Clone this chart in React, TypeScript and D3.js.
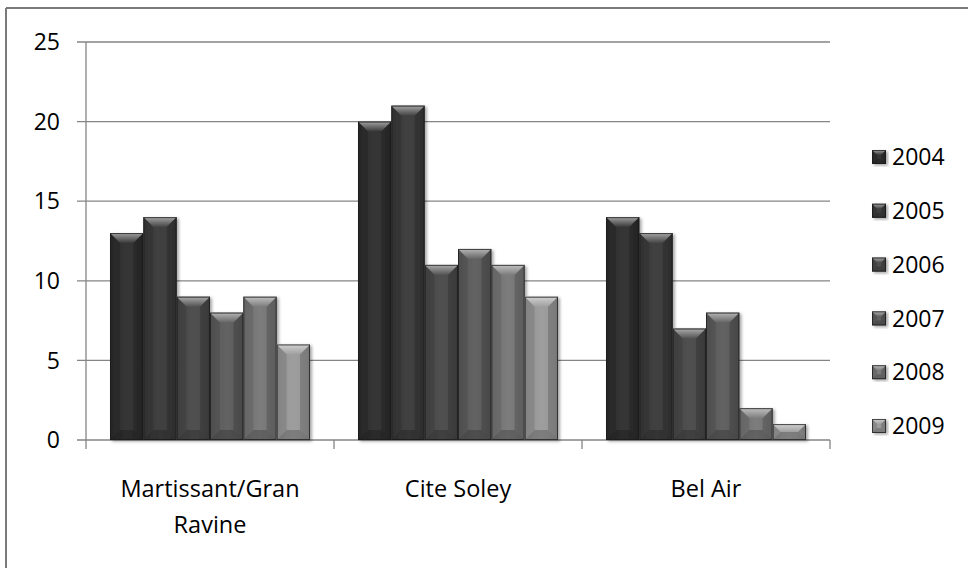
import React from "react";
import * as d3 from "d3";

// Chart data
const categories = ["Martissant/Gran Ravine", "Cite Soley", "Bel Air"];
const categoryLines = [["Martissant/Gran", "Ravine"], ["Cite Soley"], ["Bel Air"]];
const years = ["2004", "2005", "2006", "2007", "2008", "2009"];
const values2004 = [13, 20, 14];
const values2005 = [14, 21, 13];
const values2006 = [9, 11, 7];
const values2007 = [8, 12, 8];
const values2008 = [9, 11, 2];
const values2009 = [6, 9, 1];
const seriesValues = [values2004, values2005, values2006, values2007, values2008, values2009];
const yTicks = [0, 5, 10, 15, 20, 25];
const seriesColors = ["#2d2d2d", "#393939", "#494949", "#5c5c5c", "#767676", "#9a9a9a"];

const W = 968;
const H = 568;
const FONT = "'Open Sans', 'Noto Sans', sans-serif";

const x0 = d3.scaleBand<string>().domain(categories).range([86, 830]).paddingInner(0).paddingOuter(0);
const x1 = d3.scaleBand<string>().domain(years).range([0, x0.bandwidth()]).paddingInner(0).paddingOuter(0.72);
const y = d3.scaleLinear().domain([0, 25]).range([440, 42]);

function BevelRect({ x, y: top, w, h, color, depth, id }: { x: number; y: number; w: number; h: number; color: string; depth: number; id: string }) {
  const d = Math.min(depth, h / 2, w / 2);
  const pts = (arr: number[][]) => arr.map((p) => p.join(",")).join(" ");
  const b = top + h;
  const topPoly = pts([[x, top], [x + w, top], [x + w - d, top + d], [x + d, top + d]]);
  return (
    <g>
      <rect x={x} y={top} width={w} height={h} fill={color} />
      <rect x={x} y={top} width={w} height={h} fill={`url(#body-${id})`} />
      <polygon points={topPoly} fill={color} />
      <polygon points={topPoly} fill="url(#topBevel)" />
      <polygon points={pts([[x, top], [x + d, top + d], [x + d, b - d], [x, b]])} fill="#000" fillOpacity={0.1} />
      <polygon points={pts([[x + w, top], [x + w - d, top + d], [x + w - d, b - d], [x + w, b]])} fill="#000" fillOpacity={0.16} />
      <polygon points={pts([[x, b], [x + d, b - d], [x + w - d, b - d], [x + w, b]])} fill="#000" fillOpacity={0.2} />
      <rect x={x + 0.5} y={top + 0.5} width={w - 1} height={h - 1} fill="none" stroke="#1a1a1a" strokeOpacity={0.75} strokeWidth={1} />
    </g>
  );
}

export default function App() {
  const gridColor = "#858585";
  return (
    <svg width={W} height={H} style={{ position: "absolute", left: 0, top: 0, background: "#fff" }} fontFamily={FONT}>
      <defs>
        <linearGradient id="topBevel" x1="0" y1="0" x2="0" y2="1">
          <stop offset="0%" stopColor="#fff" stopOpacity={0.55} />
          <stop offset="60%" stopColor="#fff" stopOpacity={0.25} />
          <stop offset="100%" stopColor="#fff" stopOpacity={0.05} />
        </linearGradient>
        {years.map((yr) => (
          <linearGradient key={yr} id={`body-${yr}`} x1="0" y1="0" x2="1" y2="0">
            <stop offset="0%" stopColor="#000" stopOpacity={0.05} />
            <stop offset="50%" stopColor="#fff" stopOpacity={0.04} />
            <stop offset="100%" stopColor="#000" stopOpacity={0.08} />
          </linearGradient>
        ))}
        <filter id="shadow" x="-20%" y="-20%" width="140%" height="140%">
          <feDropShadow dx={2} dy={1.5} stdDeviation={1.5} floodColor="#000" floodOpacity={0.35} />
        </filter>
      </defs>

      {/* outer frame */}
      <line x1={6} y1={8} x2={W} y2={8} stroke="#7a7a7a" strokeWidth={2} />
      <line x1={6} y1={8} x2={6} y2={H} stroke="#7a7a7a" strokeWidth={2} />

      {/* gridlines and value axis */}
      {yTicks.map((t) => (
        <g key={t}>
          <line x1={77} x2={830} y1={y(t)} y2={y(t)} stroke={gridColor} strokeWidth={1.3} />
          <text x={60} y={y(t)} dy="0.36em" textAnchor="end" fontSize={23} fill="#000">
            {t}
          </text>
        </g>
      ))}
      <line x1={86} x2={86} y1={y(25)} y2={449} stroke={gridColor} strokeWidth={1.3} />
      {categories.map((c) => (
        <line key={c} x1={(x0(c) as number) + x0.bandwidth()} x2={(x0(c) as number) + x0.bandwidth()} y1={440} y2={449} stroke={gridColor} strokeWidth={1.3} />
      ))}

      {/* bars */}
      <g filter="url(#shadow)">
        {categories.map((c, ci) =>
          years.map((yr, si) => {
            const v = seriesValues[si][ci];
            const bx = (x0(c) as number) + (x1(yr) as number);
            const by = y(v);
            return <BevelRect key={c + yr} id={yr} x={bx} y={by} w={x1.bandwidth()} h={y(0) - by} color={seriesColors[si]} depth={10} />;
          })
        )}
      </g>

      {/* category labels */}
      {categories.map((c, ci) => (
        <text key={c} x={(x0(c) as number) + x0.bandwidth() / 2} y={497} textAnchor="middle" fontSize={23.5} fill="#000">
          {categoryLines[ci].map((line, li) => (
            <tspan key={li} x={(x0(c) as number) + x0.bandwidth() / 2} dy={li === 0 ? 0 : 36}>
              {line}
            </tspan>
          ))}
        </text>
      ))}

      {/* legend */}
      {years.map((yr, si) => {
        const cy = 157 + si * 53.8;
        return (
          <g key={yr}>
            <g filter="url(#shadow)">
              <BevelRect id={yr} x={872} y={cy - 7} w={14} h={14} color={seriesColors[si]} depth={5} />
            </g>
            <text x={892} y={cy} dy="0.36em" fontSize={23} fill="#000">
              {yr}
            </text>
          </g>
        );
      })}
    </svg>
  );
}
